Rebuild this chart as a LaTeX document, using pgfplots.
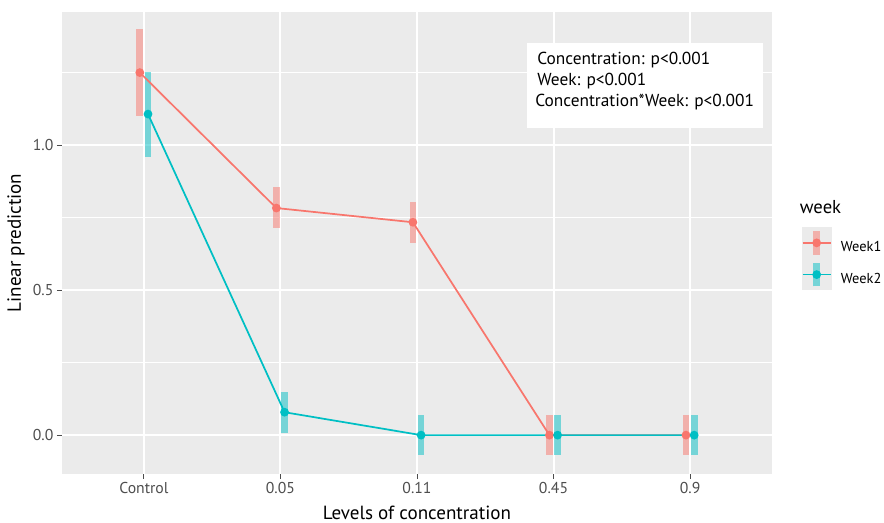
\documentclass[border=0pt]{standalone}
\usepackage{fontspec}
\setmainfont{PT Sans}
\usepackage{pgfplots}
\pgfplotsset{compat=1.18}
\definecolor{wkone}{HTML}{F8766D}
\definecolor{wktwo}{HTML}{00BFC4}
\definecolor{panel}{HTML}{EBEBEB}
\definecolor{tickgray}{HTML}{4D4D4D}
\pgfplotsset{
  legkey/.style={legend image code/.code={
    \fill[panel] (0pt,-8pt) rectangle (21pt,14.5pt);
    \draw[#1, opacity=0.5, line width=5pt] (10.5pt,-5.5pt) -- (10.5pt,12pt);
    \draw[#1, line width=1.3pt] (0pt,3.25pt) -- (21pt,3.25pt);
    \fill[#1] (10.5pt,3.25pt) circle (2.6pt);
  }},
  ebar/.style={forget plot, draw=none, mark=none,
    error bars/.cd, y dir=both, y explicit, error mark=none,
    error bar style={line width=5pt, #1, opacity=0.5}},
}
\begin{document}
\begin{tikzpicture}
\path[use as bounding box] (-46.5pt,-36.75pt) rectangle (616.5pt,355.5pt);
\begin{axis}[
  at={(0,0)}, anchor=south west,
  scale only axis, width=532.5pt, height=346.5pt,
  xmin=-0.6, xmax=4.6, ymin=-0.134, ymax=1.459,
  clip=false,
  axis background/.style={fill=panel},
  axis line style={draw=none},
  xtick={0,1,2,3,4}, xticklabels={Control,0.05,0.11,0.45,0.9},
  ytick={0,0.5,1}, minor ytick={0.25,0.75,1.25},
  /pgf/number format/assume math mode=true,
  grid=both,
  major grid style={white, line width=1.5pt},
  minor grid style={white, line width=0.75pt},
  tick style={tickgray, line width=0.75pt},
  major tick length=3.75pt, minor tick length=0pt,
  tick align=outside, tick pos=left,
  ticklabel style={font=\fontsize{11.8}{13}\selectfont, text=tickgray},
  xticklabel style={inner sep=2pt},
  yticklabel style={inner sep=2.5pt, /pgf/number format/.cd, fixed, fixed zerofill, precision=1},
  xlabel={Levels of concentration},
  ylabel={Linear prediction},
  every axis x label/.style={at={([yshift=-29pt]axis description cs:0.5,0)}, anchor=center, font=\fontsize{14.3}{16}\selectfont},
  every axis y label/.style={at={([xshift=-34.5pt]axis description cs:0,0.5)}, rotate=90, anchor=center, font=\fontsize{14.3}{16}\selectfont},
  legend style={at={(rel axis cs:1.042,0.5346)}, anchor=north west, draw=none, fill=none,
    inner sep=0pt, outer sep=0pt, row sep=0pt, column sep=7pt,
    nodes={inner sep=0pt, outer sep=0pt}, font=\fontsize{10.8}{12}\selectfont},
  legend cell align=left,
]
% error bars (linerange)
\addplot+[ebar=wkone] table[x=x, y=y, y error plus=ep, y error minus=em] {
x y ep em
-0.03 1.25 0.15 0.15
0.97 0.783 0.072 0.069
1.97 0.734 0.069 0.072
2.97 0 0.069 0.069
3.97 0 0.069 0.069
};
\addplot+[ebar=wktwo] table[x=x, y=y, y error plus=ep, y error minus=em] {
x y ep em
0.03 1.107 0.146 0.147
1.03 0.079 0.071 0.072
2.03 0 0.069 0.069
3.03 0 0.069 0.069
4.03 0 0.069 0.069
};
% lines and points
\addplot[wkone, line width=1.3pt, mark=*, mark size=2.6pt, mark options={draw=none, fill=wkone}, legkey=wkone] table {
-0.03 1.25
0.97 0.783
1.97 0.734
2.97 0
3.97 0
};
\addlegendentry{Week1}
\addplot[wktwo, line width=1.3pt, mark=*, mark size=2.6pt, mark options={draw=none, fill=wktwo}, legkey=wktwo] table {
0.03 1.107
1.03 0.079
2.03 0
3.03 0
4.03 0
};
\addlegendentry{Week2}
% annotation box
\node[fill=white, anchor=north west, inner sep=0pt, minimum width=177pt, minimum height=63.75pt] (box) at (rel axis cs:0.655,0.933) {};
\node[anchor=base west, inner sep=0pt, font=\fontsize{13}{15}\selectfont] at ([xshift=7.5pt,yshift=-16.5pt]box.north west) {Concentration: p<0.001};
\node[anchor=base west, inner sep=0pt, font=\fontsize{13}{15}\selectfont] at ([xshift=7.5pt,yshift=-32.25pt]box.north west) {Week: p<0.001};
\node[anchor=base west, inner sep=0pt, font=\fontsize{13}{15}\selectfont] at ([xshift=6pt,yshift=-48pt]box.north west) {Concentration*Week: p<0.001};
% legend title
\node[anchor=west, inner sep=0pt, font=\fontsize{14}{16}\selectfont] at (rel axis cs:1.039,0.578) {week};
\end{axis}
\end{tikzpicture}
\end{document}
